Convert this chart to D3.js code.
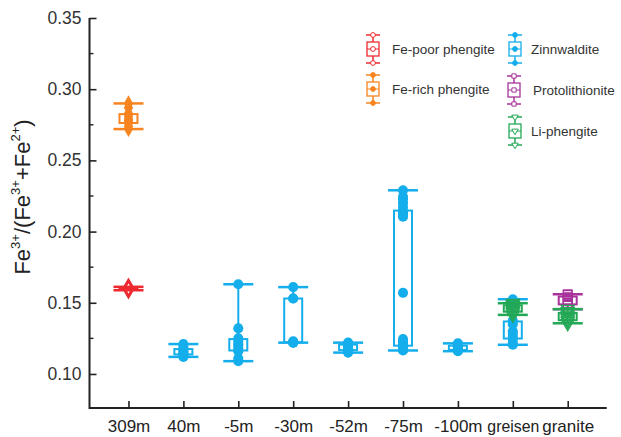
<!DOCTYPE html>
<html>
<head>
<meta charset="utf-8">
<script src="https://cdnjs.cloudflare.com/ajax/libs/d3/7.8.5/d3.min.js"></script>
<style>
  body { margin: 0; background: #fff; }
  text { font-family: "Liberation Sans", Arial, sans-serif; }
</style>
</head>
<body>
<svg width="621" height="437"></svg>
<script>
"use strict";

// categories on the x axis
const sites = ["309m", "40m", "-5m", "-30m", "-52m", "-75m", "-100m", "greisen", "granite"];
const yTicks = [0.10, 0.15, 0.20, 0.25, 0.30, 0.35];

const fePoor309 = [0.1588, 0.1595, 0.1600, 0.1605, 0.1612];
const feRich309 = [0.290, 0.287, 0.283, 0.281, 0.279, 0.278, 0.277, 0.276, 0.274, 0.272];
const zinn40 = [0.121, 0.119, 0.117, 0.116, 0.115, 0.114, 0.113, 0.112];
const zinn5 = [0.163, 0.132, 0.125, 0.123, 0.121, 0.120, 0.118, 0.116, 0.111, 0.109];
const zinn30 = [0.161, 0.153, 0.153, 0.123, 0.1225, 0.122, 0.122];
const zinn52 = [0.122, 0.121, 0.1205, 0.119, 0.118, 0.117, 0.116, 0.115];
const zinn75 = [0.229, 0.2245, 0.2225, 0.220, 0.217, 0.214, 0.213, 0.212, 0.2105, 0.157,
                0.1245, 0.123, 0.122, 0.121, 0.120, 0.1195, 0.119, 0.118, 0.117, 0.1165];
const zinn100 = [0.1215, 0.121, 0.1195, 0.119, 0.118, 0.117, 0.1165, 0.116];
const zinnGreisen = [0.1525, 0.150, 0.1375, 0.135, 0.130, 0.128, 0.126, 0.1245, 0.122, 0.1205];
const liPhenGreisen = [0.1497, 0.149, 0.148, 0.1465, 0.145, 0.144, 0.143, 0.1415];
const protoGranite = [0.156, 0.1555, 0.154, 0.152, 0.151, 0.149, 0.1485, 0.1455];
const liPhenGranite = [0.1455, 0.144, 0.1425, 0.141, 0.139, 0.138, 0.137, 0.1356];

const types = {
  fePoor: { name: "Fe-poor phengite", color: "#ee2a30", shape: "diamond", filled: false },
  feRich: { name: "Fe-rich phengite", color: "#f7841f", shape: "diamond", filled: true },
  zinn:   { name: "Zinnwaldite", color: "#14aeec", shape: "circle", filled: true },
  proto:  { name: "Protolithionite", color: "#a8339b", shape: "square", filled: false },
  liPhen: { name: "Li-phengite", color: "#23a856", shape: "triangle", filled: false }
};

const groups = [
  { site: "309m", type: "fePoor", values: fePoor309 },
  { site: "309m", type: "feRich", values: feRich309 },
  { site: "40m", type: "zinn", values: zinn40 },
  { site: "-5m", type: "zinn", values: zinn5 },
  { site: "-30m", type: "zinn", values: zinn30 },
  { site: "-52m", type: "zinn", values: zinn52 },
  { site: "-75m", type: "zinn", values: zinn75 },
  { site: "-100m", type: "zinn", values: zinn100 },
  { site: "greisen", type: "zinn", values: zinnGreisen },
  { site: "greisen", type: "liPhen", values: liPhenGreisen },
  { site: "granite", type: "proto", values: protoGranite },
  { site: "granite", type: "liPhen", values: liPhenGranite }
];

const legendItems = [
  { type: "fePoor", x: 373, y: 49, dx: 19 },
  { type: "feRich", x: 373, y: 89, dx: 19 },
  { type: "zinn", x: 515, y: 49, dx: 16 },
  { type: "proto", x: 514, y: 90, dx: 19 },
  { type: "liPhen", x: 515, y: 131, dx: 16 }
];

const svg = d3.select("svg"),
      plotLeft = 89.5, plotBottom = 408, plotTop = 18;

const x = d3.scaleLinear().domain([0.29, 9.71]).range([plotLeft, 606.7]);
const y = d3.scaleLinear().domain([0.0761, 0.35]).range([plotBottom, plotTop]);
const xPos = s => x(sites.indexOf(s) + 1);

const symbols = {
  circle: d3.symbolCircle, diamond: d3.symbolDiamond,
  square: d3.symbolSquare, triangle: d3.symbolTriangle
};

// axes
const yAxis = d3.axisLeft(y).tickValues(yTicks).tickSize(-7).tickPadding(8)
    .tickFormat(d3.format(".2f"));
const gy = svg.append("g").attr("transform", `translate(${plotLeft},0)`).call(yAxis);
gy.select(".domain").remove();
gy.selectAll("line").attr("stroke", "#222").attr("stroke-width", 1.6);
gy.selectAll("text").attr("font-size", 17.5).attr("fill", "#333");

// minor y ticks
svg.append("g").selectAll("line")
    .data(d3.range(0.125, 0.35, 0.05))
    .enter().append("line")
    .attr("x1", plotLeft).attr("x2", plotLeft + 4)
    .attr("y1", d => y(d)).attr("y2", d => y(d))
    .attr("stroke", "#222").attr("stroke-width", 1.4);

const xAxis = d3.axisBottom(x).tickValues(d3.range(1, 10)).tickSize(-7).tickPadding(12)
    .tickFormat(i => sites[i - 1]);
const gx = svg.append("g").attr("transform", `translate(0,${plotBottom})`).call(xAxis);
gx.select(".domain").remove();
gx.selectAll("line").attr("stroke", "#222").attr("stroke-width", 1.6);
gx.selectAll("text").attr("font-size", 17).attr("fill", "#222");
// squeeze the two long labels slightly so they do not touch
gx.selectAll("text").each(function() {
  let w = this.getComputedTextLength();
  if (w > 52) d3.select(this).attr("textLength", 52).attr("lengthAdjust", "spacingAndGlyphs");
});

svg.append("path")
    .attr("d", `M${plotLeft},${plotTop} V${plotBottom} H${x(9.71)}`)
    .attr("fill", "none").attr("stroke", "#222").attr("stroke-width", 2);

// y label with superscripts
const ylab = svg.append("text")
    .attr("transform", "translate(30,197) rotate(-90)")
    .attr("text-anchor", "middle")
    .attr("font-size", 22).attr("fill", "#222");
[["Fe", false], ["3+", true], ["/(Fe", false], ["3+", true], ["+Fe", false], ["2+", true], [")", false]]
  .forEach(function(p, i, arr) {
    let prevSup = i > 0 && arr[i - 1][1];
    ylab.append("tspan")
        .attr("font-size", p[1] ? 13 : 22)
        .attr("dy", p[1] ? -10 : (prevSup ? 10 : 0))
        .text(p[0]);
  });

// boxes
const boxW = 18, capW = 30;
const boxG = svg.append("g").selectAll("g")
    .data(groups).enter().append("g");

boxG.each(function(d) {
  let g = d3.select(this),
      t = types[d.type],
      cx = xPos(d.site),
      v = d.values.slice().sort(d3.ascending),
      q1 = d3.quantile(v, 0.25), q3 = d3.quantile(v, 0.75),
      lo = d3.min(v), hi = d3.max(v);

  g.append("line").attr("x1", cx).attr("x2", cx).attr("y1", y(hi)).attr("y2", y(q3))
      .attr("stroke", t.color).attr("stroke-width", 2);
  g.append("line").attr("x1", cx).attr("x2", cx).attr("y1", y(q1)).attr("y2", y(lo))
      .attr("stroke", t.color).attr("stroke-width", 2);
  [lo, hi].forEach(function(w) {
    g.append("line").attr("x1", cx - capW / 2).attr("x2", cx + capW / 2)
        .attr("y1", y(w)).attr("y2", y(w))
        .attr("stroke", t.color).attr("stroke-width", 2.5);
  });
  g.append("rect").attr("x", cx - boxW / 2).attr("width", boxW)
      .attr("y", y(q3)).attr("height", Math.max(1, y(q1) - y(q3)))
      .attr("fill", "none").attr("stroke", t.color).attr("stroke-width", 2);

  g.selectAll("path.pt").data(v).enter().append("path")
      .attr("class", "pt")
      .attr("d", d3.symbol().type(symbols[t.shape]).size(t.shape === "circle" ? 80 : 75)())
      .attr("transform", p => `translate(${cx},${y(p)})` + (t.shape === "triangle" ? " rotate(180)" : ""))
      .attr("fill", t.filled ? t.color : "none")
      .attr("stroke", t.color).attr("stroke-width", t.filled ? 0 : 1.2);
});

// legend
const leg = svg.append("g").selectAll("g")
    .data(legendItems).enter().append("g")
    .attr("transform", d => `translate(${d.x},${d.y})`);

leg.each(function(d) {
  let g = d3.select(this), t = types[d.type];
  g.append("line").attr("x1", 0).attr("x2", 0).attr("y1", -14).attr("y2", 14)
      .attr("stroke", t.color).attr("stroke-width", 1.5);
  [-14, 14].forEach(function(w) {
    g.append("line").attr("x1", -7).attr("x2", 7).attr("y1", w).attr("y2", w)
        .attr("stroke", t.color).attr("stroke-width", 1.5);
  });
  g.append("rect").attr("x", -6).attr("y", -7).attr("width", 12).attr("height", 14)
      .attr("fill", "#fff").attr("stroke", t.color).attr("stroke-width", 1.3);
  g.append("line").attr("x1", -6).attr("x2", 6).attr("y1", 0).attr("y2", 0)
      .attr("stroke", t.color).attr("stroke-width", 1);
  [-14, 0, 14].forEach(function(w) {
    g.append("path")
        .attr("d", d3.symbol().type(t.shape === "diamond" ? d3.symbolCircle : symbols[t.shape]).size(18)())
        .attr("transform", `translate(0,${w})` + (t.shape === "triangle" ? " rotate(180)" : ""))
        .attr("fill", t.filled ? t.color : "#fff")
        .attr("stroke", t.color).attr("stroke-width", 1);
  });
  g.append("text").attr("x", d.dx).attr("y", 5)
      .attr("font-size", 13.5).attr("fill", "#333")
      .text(t.name);
});
</script>
</body>
</html>
